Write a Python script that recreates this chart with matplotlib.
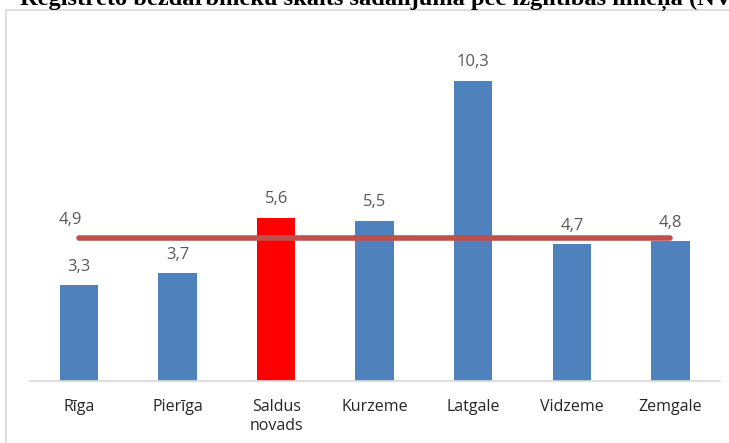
import matplotlib.pyplot as plt
from matplotlib.patches import Rectangle

regions = ['Rīga', 'Pierīga', 'Saldus\nnovads', 'Kurzeme', 'Latgale', 'Vidzeme', 'Zemgale']
values = [3.3, 3.7, 5.6, 5.5, 10.3, 4.7, 4.8]
average = [4.9] * len(regions)
highlight = 'Saldus\nnovads'

blue = '#4F81BD'
red_bar = '#FF0000'
line_red = '#C0504D'
label_grey = '#595959'

fig = plt.figure(figsize=(7.29, 4.43), dpi=100)
fig.patch.set_facecolor('white')

# chart border (cut off at right and bottom like the screenshot)
fig.patches.append(Rectangle((6 / 729, -0.05), 1.0, 1 - 10 / 443 + 0.05,
                             transform=fig.transFigure, fill=False,
                             edgecolor='#D9D9D9', linewidth=1.2))

fig.text(20 / 729, 1 - 5 / 443,
         'Reģistrēto bezdarbnieku skaits sadalījumā pēc izglītības līmeņa (NVA)',
         family='Liberation Serif', weight='bold', fontsize=17.6, va='baseline', ha='left')

ax = fig.add_axes([29.7 / 729, 62 / 443, 690 / 729, 350 / 443])
x = range(len(regions))
colors = [red_bar if r == highlight else blue for r in regions]
ax.bar(x, values, width=0.39, color=colors, zorder=2)
ax.plot(x, average, color=line_red, linewidth=4, solid_capstyle='round', zorder=3)

for i, v in enumerate(values):
    ax.text(i, v + 0.35, f'{v:.1f}'.replace('.', ','), ha='center', va='bottom',
            color=label_grey, fontsize=12, family='Open Sans')
ax.text(0 - 0.09, average[0] + 0.35, f'{average[0]:.1f}'.replace('.', ','),
        ha='center', va='bottom', color=label_grey, fontsize=12, family='Open Sans')

ax.set_xlim(-0.5, 6.5)
ax.set_ylim(0, 12)
ax.set_xticks(list(x))
ax.set_xticklabels(regions, fontsize=11.5, color='#262626', family='Open Sans',
                   linespacing=1.25, va='top')
ax.tick_params(axis='x', length=0, pad=13)
ax.set_yticks([])
for s in ['top', 'right', 'left']:
    ax.spines[s].set_visible(False)
ax.spines['bottom'].set_color('#D9D9D9')
ax.spines['bottom'].set_linewidth(1.2)

fig.savefig('out.png', dpi=100)
